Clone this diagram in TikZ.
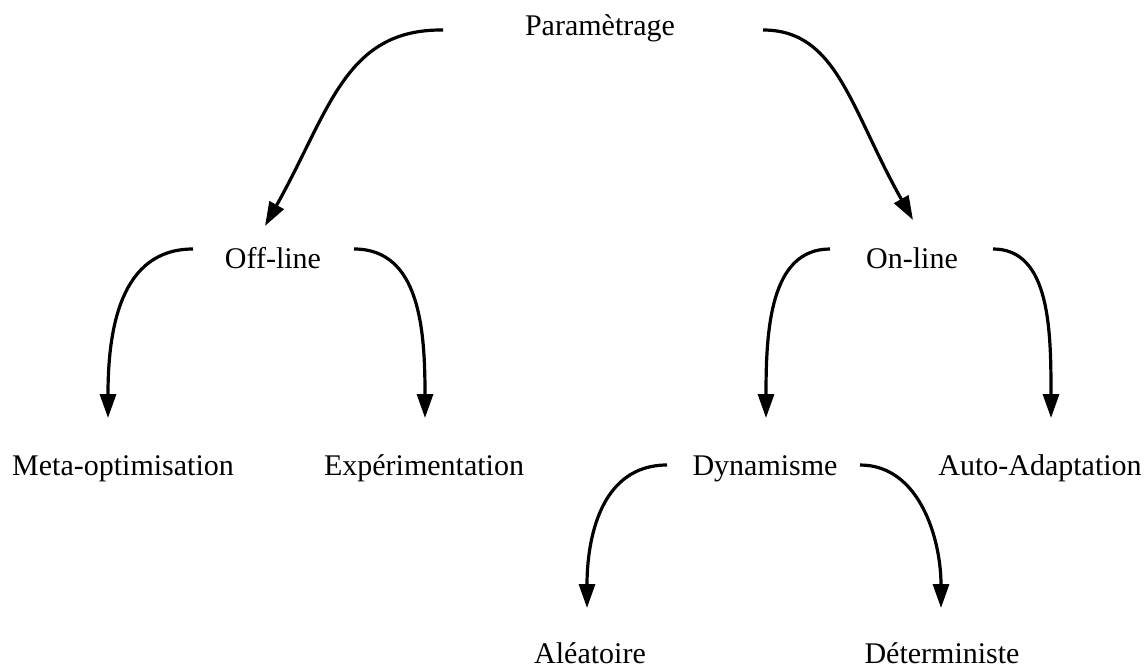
\documentclass[tikz,border=0pt]{standalone}
\usepackage{fontspec}
\setmainfont{Liberation Serif}
\usetikzlibrary{arrows.meta}
\begin{document}
\begin{tikzpicture}[x=1pt,y=-1pt,
  lbl/.style={anchor=base,inner sep=0pt,font=\fontsize{30}{36}\selectfont},
  link/.style={line width=3.2pt,-{Triangle[length=24pt,width=16pt]}}]
\useasboundingbox (0,0) rectangle (1147,668);
% labels
\node[lbl] (par) at (600,36) {Paramètrage};
\node[lbl] (off) at (273,268) {Off-line};
\node[lbl] (on)  at (912,268) {On-line};
\node[lbl] (meta) at (123,475) {Meta-optimisation};
\node[lbl] (exp)  at (424,475) {Expérimentation};
\node[lbl] (dyn)  at (765,475) {Dynamisme};
\node[lbl] (auto) at (1040,475) {Auto-Adaptation};
\node[lbl] (alea) at (590,663) {Aléatoire};
\node[lbl] (det)  at (942,663) {Déterministe};
% connector ends
\coordinate (parL) at (443,30);
\coordinate (parR) at (763,30);
\coordinate (offL) at (193,249);
\coordinate (offR) at (354,249);
\coordinate (onL)  at (830,249);
\coordinate (onR)  at (993,249);
\coordinate (dynL) at (667,465);
\coordinate (dynR) at (860,465);
\coordinate (offT) at (265,226);
\coordinate (onT)  at (913,220);
\coordinate (metaT) at (108,418);
\coordinate (expT)  at (425,418);
\coordinate (dynT)  at (766,418);
\coordinate (autoT) at (1051,418);
\coordinate (aleaT) at (587,608);
\coordinate (detT)  at (941,608);
% connectors
\draw[link] (parL) .. controls (345,29) and (330,110) .. (offT);
\draw[link] (parR) .. controls (837,30) and (850,108) .. (onT);
\draw[link] (offL) .. controls (120,249) and (108,330) .. (metaT);
\draw[link] (offR) .. controls (420,249) and (425,330) .. (expT);
\draw[link] (onL) .. controls (770,249) and (766,330) .. (dynT);
\draw[link] (onR) .. controls (1050,249) and (1051,330) .. (autoT);
\draw[link] (dynL) .. controls (600,465) and (587,540) .. (aleaT);
\draw[link] (dynR) .. controls (920,465) and (941,540) .. (detT);
\end{tikzpicture}
\end{document}
